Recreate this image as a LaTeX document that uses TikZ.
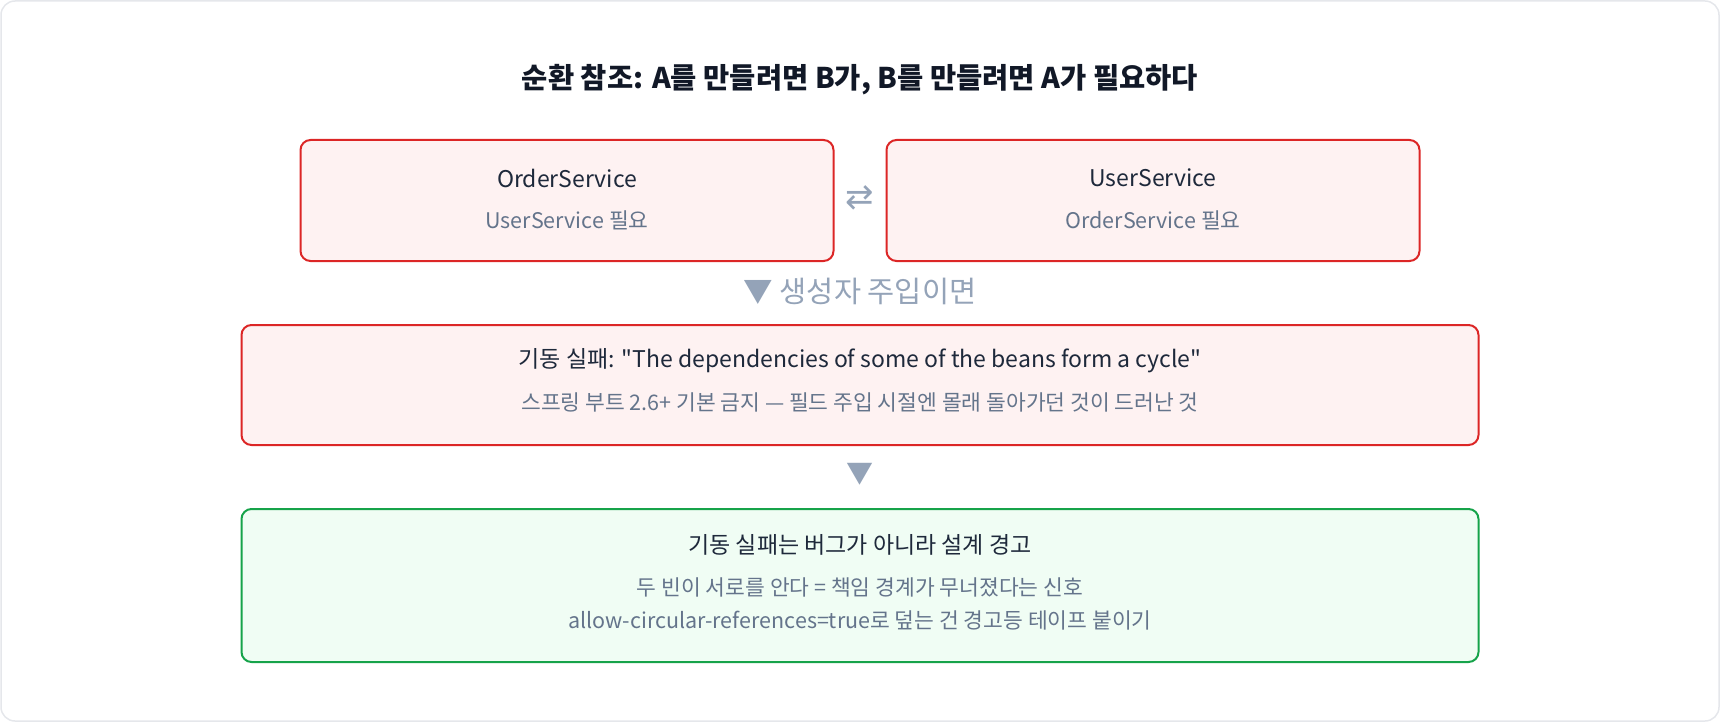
\documentclass[tikz,border=0pt]{standalone}
\usepackage{fontspec}
\setmainfont{Noto Sans CJK KR}[Ligatures=TeXOff]
\newfontfamily\symbolFont{DejaVu Sans}
\usetikzlibrary{calc}

\definecolor{titleInk}{HTML}{111827}
\definecolor{labelInk}{HTML}{1E293B}
\definecolor{noteInk}{HTML}{64748B}
\definecolor{arrowInk}{HTML}{94A3B8}
\definecolor{failLine}{HTML}{DC2626}
\definecolor{failFill}{HTML}{FEF2F2}
\definecolor{okLine}{HTML}{16A34A}
\definecolor{okFill}{HTML}{F0FDF4}
\definecolor{frameLine}{HTML}{E5E7EB}

\newcommand\boxRadius{10pt}

\tikzset{
  panel/.style={rounded corners=\boxRadius, line width=2pt, inner sep=0pt},
  failPanel/.style={panel, draw=failLine, fill=failFill},
  okPanel/.style={panel, draw=okLine, fill=okFill},
  headText/.style={text=titleInk, font=\fontsize{28.5}{32}\selectfont\bfseries},
  mainText/.style={text=labelInk, font=\fontsize{23}{27}\selectfont},
  noteText/.style={text=noteInk, font=\fontsize{21.5}{25}\selectfont},
  flowText/.style={text=arrowInk, font=\fontsize{29.5}{33}\selectfont}
}

\begin{document}
\begin{tikzpicture}[x=1pt, y=-1pt]
    \useasboundingbox (0,0) rectangle (1720,722);
    % Draw the outer frame
    \draw [frameLine, line width=1.5pt, rounded corners=14pt] (1,1) rectangle (1719,721);
    % Draw the title
    \node [headText] (title) at (860,80) {순환 참조: A를 만들려면 B가, B를 만들려면 A가 필요하다};
    % Draw the two services
    \node [failPanel, minimum width=533pt, minimum height=121pt] (orderBox) at (567,200.5) {};
    \node [failPanel, minimum width=533pt, minimum height=121pt] (userBox) at (1153,200.5) {};
    \node [text=arrowInk, font=\symbolFont\fontsize{34}{38}\selectfont] (swapMark) at ($(orderBox.east)!0.5!(userBox.west)+(0,-2.5)$) {⇄};
    % Draw the constructor note
    \node [flowText] (ctorNote) at (860,291) {▼ 생성자 주입이면};
    % Draw the failure and the lesson
    \node [failPanel, minimum width=1237pt, minimum height=120pt] (failBox) at (860,385) {};
    \node [flowText, font=\fontsize{27}{30}\selectfont] (downMark) at (860,474) {▼};
    \node [okPanel, minimum width=1237pt, minimum height=153pt] (lessonBox) at (860,585.5) {};
    % Draw box text
    \foreach \name/\nx/\ny/\n in {orderName/567/178/OrderService, userName/1153/178/UserService,%
    failName/860/361/{기동 실패: "The dependencies of some of the beans form a cycle"},%
    lessonName/860/545/{기동 실패는 버그가 아니라 설계 경고}}
    \node [mainText] (\name) at (\nx,\ny) {\n};
    \foreach \name/\nx/\ny/\n in {orderNeed/567/220/{UserService 필요}, userNeed/1153/220/{OrderService 필요},%
    failNote/860/402/{스프링 부트 2.6+ 기본 금지 — 필드 주입 시절엔 몰래 돌아가던 것이 드러난 것},%
    lessonNoteA/860/587/{두 빈이 서로를 안다 = 책임 경계가 무너졌다는 신호},%
    lessonNoteB/860/620/{allow-circular-references=true로 덮는 건 경고등 테이프 붙이기}}
    \node [noteText] (\name) at (\nx,\ny) {\n};
\end{tikzpicture}
\end{document}
